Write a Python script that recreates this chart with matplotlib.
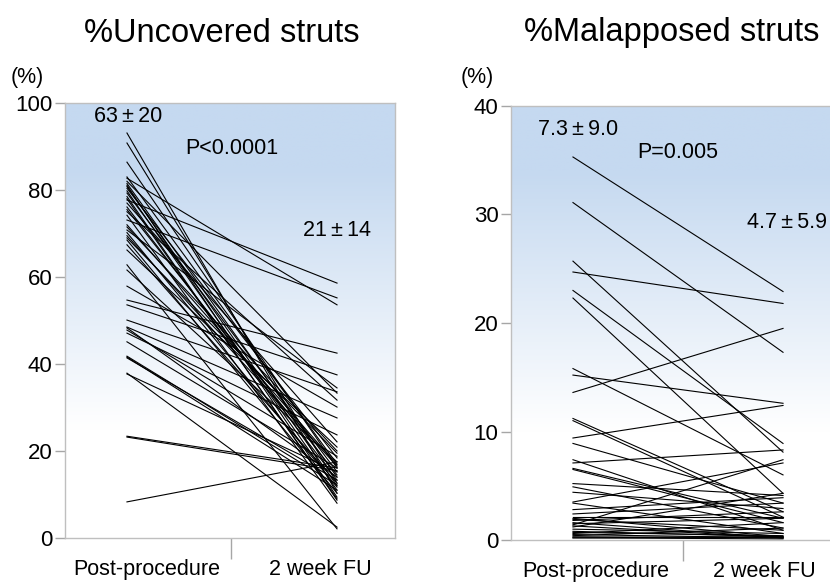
import numpy as np
import matplotlib
matplotlib.use("Agg")
import matplotlib.pyplot as plt
from matplotlib.colors import LinearSegmentedColormap

plt.rcParams['font.family'] = ['Liberation Sans', 'DejaVu Sans']

# %Uncovered struts: post-procedure -> 2 week FU
unc_pre = [93.1, 90.8, 86.4, 82.7, 82.0, 81.5, 81.1, 80.4, 79.8, 79.3, 78.5,
           77.7, 77.0, 76.1, 75.0, 74.2, 73.1, 72.0, 70.8, 70.2, 69.0, 68.5,
           67.4, 66.2, 62.8, 61.6, 57.9, 54.7, 53.6, 50.1, 48.5, 48.3, 47.1,
           45.1, 41.6, 41.4, 37.9, 37.7, 23.4, 23.2, 8.3,
           83.0, 80.8, 78.0, 75.5, 71.5, 69.5, 47.8, 41.8]
unc_fu = [10.3, 12.6, 16.1, 53.6, 33.3, 14.0, 9.4, 18.4, 11.0, 15.2, 8.7,
          58.6, 22.1, 13.3, 31.7, 8.0, 55.2, 16.8, 34.5, 11.7, 19.5, 10.3,
          12.6, 20.9, 2.1, 17.5, 30.1, 42.5, 37.5, 33.6, 27.6, 14.0, 23.7,
          16.1, 11.0, 13.3, 2.5, 15.2, 16.1, 15.5, 17.5,
          17.0, 12.0, 9.0, 14.5, 20.0, 16.5, 18.8, 12.2]

# %Malapposed struts
mal_pre = [35.3, 31.1, 25.7, 24.7, 23.0, 22.3, 15.8, 15.2, 13.6, 11.2, 11.0,
           9.4, 8.9, 7.4, 7.1, 6.6, 6.5, 5.2, 4.9, 4.4, 3.5, 3.4, 2.8, 2.1,
           2.0, 1.8, 1.6, 1.4, 1.2, 0.8, 0.6, 0.3, 0.2, 1.9, 1.5, 1.0, 0.5,
           0.4, 0.2, 2.4, 1.3, 0.7]
mal_fu = [22.9, 17.3, 8.1, 21.8, 8.9, 4.3, 6.0, 12.6, 19.5, 2.6, 2.1,
          12.4, 3.4, 0.9, 8.3, 2.0, 1.6, 4.1, 1.1, 2.9, 7.1, 0.6, 3.9, 2.1,
          0.3, 2.6, 0.2, 7.4, 4.3, 0.3, 1.6, 0.2, 0.1, 0.9, 2.0, 0.6, 0.2,
          1.1, 0.3, 3.4, 0.2, 0.4]

categories = ["Post-procedure", "2 week FU"]
PM = "\u2009\u00b1\u2009"

fig = plt.figure(figsize=(8.3, 5.82), dpi=100)

grad = LinearSegmentedColormap.from_list(
    "bg", [(0.0, "#ffffff"), (0.25, "#ffffff"), (0.85, "#c5d9f0"), (1.0, "#c5d9f0")])
gradient = np.linspace(0, 1, 256).reshape(-1, 1)


def panel(rect, pre, fu, ymax, step, title, title_x, pct_x, notes, label_x, sep_x):
    ax = fig.add_axes(rect)
    ax.imshow(gradient, aspect='auto', cmap=grad, origin='lower',
              extent=[0, 1, 0, 1], transform=ax.transAxes, zorder=0)
    for a, b in zip(pre, fu):
        ax.plot([0, 1], [a, b], color='black', lw=0.8, zorder=2)
    ax.set_xlim(-0.295, 1.276)
    ax.set_ylim(0, ymax)
    ax.set_yticks(np.arange(0, ymax + 1, step))
    ax.set_xticks(label_x)
    ax.set_xticklabels(categories, fontsize=15.5)
    ax.set_xticks([sep_x], minor=True)
    ax.tick_params(axis='x', which='major', length=0, pad=15)
    ax.tick_params(axis='x', which='minor', length=15, color='#a6a6a6', width=1)
    ax.tick_params(axis='y', length=7, color='#a6a6a6', width=1, labelsize=16, pad=2)
    for s in ax.spines.values():
        s.set_color('#bfbfbf')
        s.set_linewidth(1)
    for txt, x, y in notes:
        ax.text(x, y, txt, fontsize=15.5, ha='center', va='center', zorder=3)
    fig.text(title_x, 1 - 33 / 582, title, fontsize=23.5, ha='center', va='center')
    fig.text(pct_x, 1 - 77 / 582, "(%)", fontsize=15.5, ha='center', va='center')
    return ax


panel([65 / 830, 1 - 538 / 582, 330 / 830, 435 / 582], unc_pre, unc_fu, 100, 20,
      "%Uncovered struts", 222 / 830, 27 / 830,
      [("63" + PM + "20", 0.005, 96.8), ("P<0.0001", 0.5, 89.5), ("21" + PM + "14", 1.0, 70.8)],
      [0.095, 0.92], 0.495)

panel([511 / 830, 1 - 540 / 582, 330 / 830, 434 / 582], mal_pre, mal_fu, 40, 10,
      "%Malapposed struts", 672 / 830, 477 / 830,
      [("7.3" + PM + "9.0", 0.024, 37.8), ("P=0.005", 0.5, 35.7), ("4.7" + PM + "5.9", 1.02, 29.3)],
      [0.11, 0.909], 0.526)

fig.savefig("out.png", dpi=100)
